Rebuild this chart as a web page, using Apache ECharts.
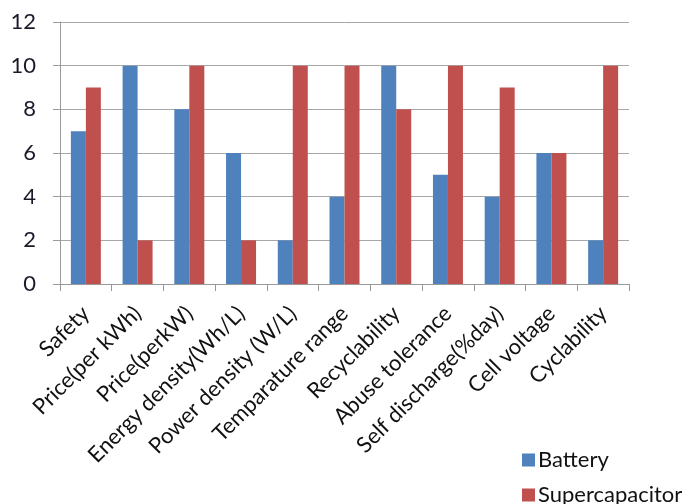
<!DOCTYPE html>
<html>
<head>
<meta charset="utf-8">
<script src="https://cdn.jsdelivr.net/npm/echarts@6/dist/echarts.min.js"></script>
<style>html,body{margin:0;padding:0;background:#fff;}#c{width:688px;height:504px;}</style>
</head>
<body>
<div id="c"></div>
<script>
const categories = ["Safety","Price(per kWh)","Price(perkW)","Energy density(Wh/L)","Power density (W/L)","Temparature range","Recyclability","Abuse tolerance","Self discharge(%day)","Cell voltage","Cyclability"];
const battery = [7,10,8,6,2,4,10,5,4,6,2];
const supercapacitor = [9,2,10,2,10,10,8,10,9,6,10];
const seriesNames = ["Battery","Supercapacitor"];

const chart = echarts.init(document.getElementById('c'), null, {renderer:'canvas'});
const font = 'Lato';
const legendText = {fontFamily:font,fontSize:22,color:'#111',padding:[0,0,0,-2]};
chart.setOption({
  animation:false,
  backgroundColor:'#fff',
  grid:{left:60,right:59,top:22,bottom:220,containLabel:false},
  legend:[
    {left:517, top:444, itemWidth:13, itemHeight:13, icon:'rect', textStyle:legendText, data:[seriesNames[0]]},
    {left:517, top:479, itemWidth:13, itemHeight:13, icon:'rect', textStyle:legendText, data:[seriesNames[1]]}
  ],
  xAxis:{
    type:'category', data:categories,
    axisLine:{lineStyle:{color:'#9a9a9a',width:1}},
    axisTick:{show:true,length:7,alignWithLabel:false,lineStyle:{color:'#9a9a9a'}},
    axisLabel:{rotate:45,interval:0,margin:26,fontFamily:font,fontSize:22,color:'#111'}
  },
  yAxis:{
    type:'value', min:0, max:12, interval:2,
    axisLine:{show:true,lineStyle:{color:'#9a9a9a',width:1}},
    axisTick:{show:true,length:7,lineStyle:{color:'#9a9a9a'}},
    splitLine:{show:true,lineStyle:{color:'#a8a8a8',width:1}},
    axisLabel:{margin:24,fontFamily:font,fontSize:22,color:'#1a1a2a'}
  },
  series:[
    {name:seriesNames[0],type:'bar',data:battery,barWidth:15,barGap:'0%',itemStyle:{color:'#4F81BD'}},
    {name:seriesNames[1],type:'bar',data:supercapacitor,barWidth:15,barGap:'0%',itemStyle:{color:'#C0504D'}}
  ]
});
</script>
</body>
</html>
